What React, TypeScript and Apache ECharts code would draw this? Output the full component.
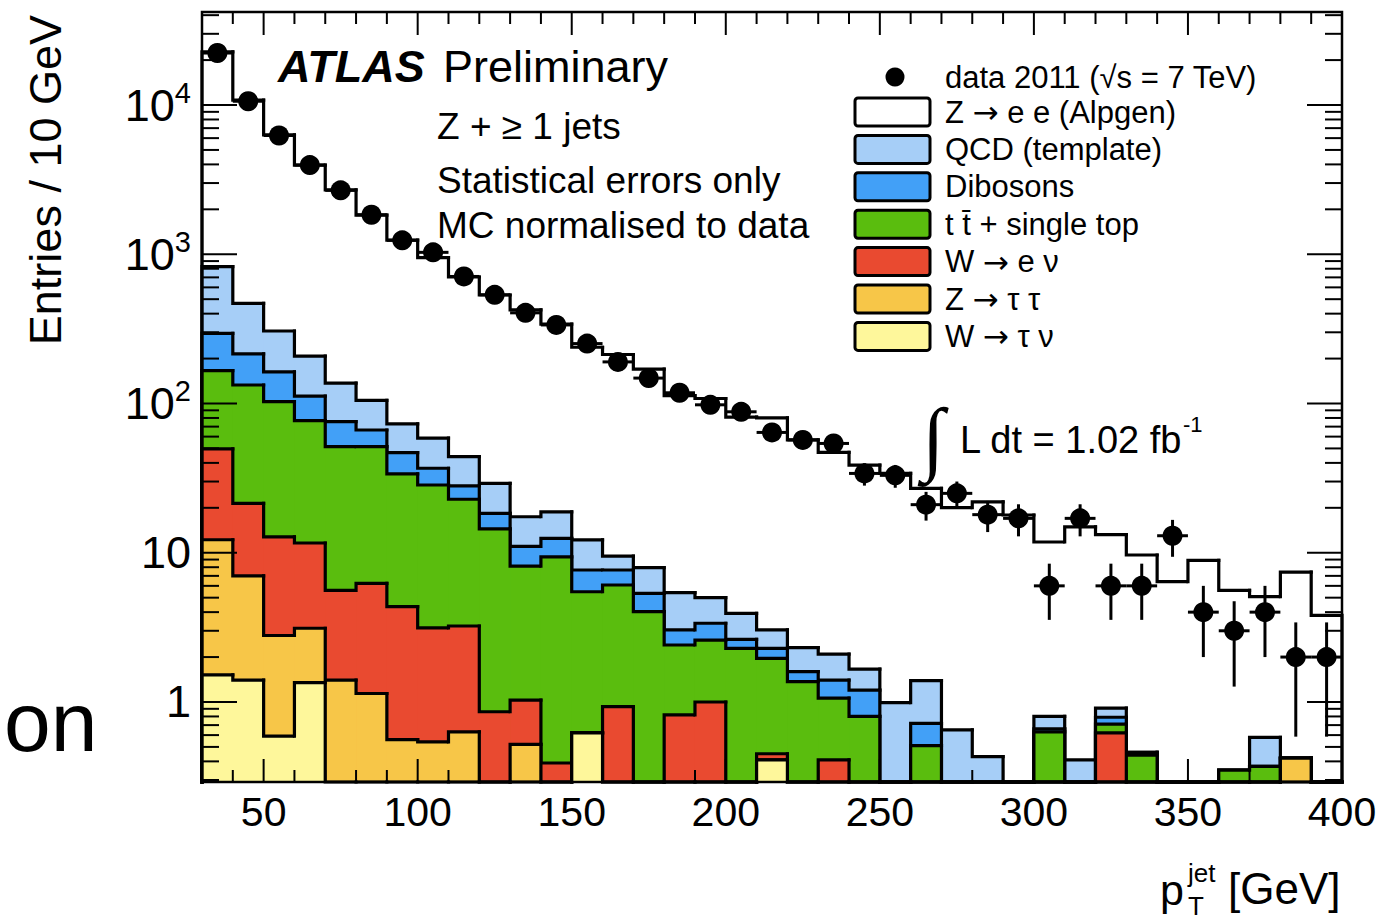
import React, { useEffect, useRef } from 'react';
import * as echarts from 'echarts';

const FONT = "'Liberation Sans', Arial, Helvetica, sans-serif";
const ARROW_FONT = "'DejaVu Sans', sans-serif";
const Y_MIN = 0.291;
const Y_MAX = 42000;
const BIN_WIDTH = 10;

// lower bin edges (GeV)
const binLow = [30, 40, 50, 60, 70, 80, 90, 100, 110, 120, 130, 140, 150, 160, 170, 180, 190, 200, 210, 220, 230, 240, 250, 260, 270, 280, 290, 300, 310, 320, 330, 340, 350, 360, 370, 380, 390];
// bin centres (GeV)
const binCenter = [35, 45, 55, 65, 75, 85, 95, 105, 115, 125, 135, 145, 155, 165, 175, 185, 195, 205, 215, 225, 235, 245, 255, 265, 275, 285, 295, 305, 315, 325, 335, 345, 355, 365, 375, 385, 395];

// data 2011 counts per bin
const dataCounts = [22300, 10600, 6250, 3960, 2680, 1840, 1240, 1030, 710, 535, 405, 336, 252, 190, 148, 118, 98, 88, 64, 57, 54, 34, 33, 21, 25, 18, 17, 6, 17, 6, 6, 13, 4, 3, 4, 2, 2];

// MC components (stack order, bottom to top)
const wTauNu = [1.52, 1.4, 0.59, 1.35, 0, 0, 0, 0, 0, 0, 0, 0, 0.62, 0, 0, 0, 0, 0, 0.41, 0, 0, 0, 0, 0, 0, 0, 0, 0, 0, 0, 0, 0, 0, 0, 0, 0, 0];
const zTauTau = [10.7, 5.6, 2.2, 1.77, 1.4, 1.14, 0.56, 0.54, 0.63, 0, 0.52, 0, 0, 0, 0, 0, 0, 0, 0, 0, 0, 0, 0, 0, 0, 0, 0, 0, 0, 0, 0, 0, 0, 0, 0, 0.42, 0];
const wENu = [37.4, 14.4, 10.0, 8.5, 4.2, 5.1, 3.8, 2.6, 2.6, 0.86, 0.51, 0.39, 0, 0.93, 0, 0.82, 1.0, 0, 0.04, 0, 0.41, 0, 0, 0, 0, 0, 0, 0, 0, 0.62, 0, 0, 0, 0, 0, 0, 0];
const ttbarTop = [116.4, 111.6, 90.2, 65.1, 45.8, 45.2, 29.4, 25.3, 19.6, 13.6, 7.1, 9.0, 4.86, 5.15, 4.03, 1.59, 1.6, 2.29, 1.51, 1.37, 0.65, 0.8, 0, 0.51, 0, 0, 0, 0.63, 0, 0.09, 0.44, 0, 0, 0.35, 0.37, 0, 0];
const dibosons = [129, 82, 60, 35.3, 24.1, 15, 13.1, 8.4, 5.2, 3.9, 2.9, 3.1, 2.18, 1.58, 1.32, 0.63, 0.77, 0.34, 0.33, 0.23, 0.34, 0.4, 0, 0.21, 0, 0, 0, 0.03, 0, 0.08, 0.02, 0, 0, 0, 0, 0, 0];
const qcd = [531, 254, 143, 96, 61.5, 38.6, 26.2, 21.7, 16, 10.8, 6.4, 6.3, 4.54, 1.84, 2.59, 2.36, 1.63, 1.3, 0.75, 0.71, 0.69, 0.46, 0.99, 0.67, 0.65, 0.43, 0, 0.14, 0.41, 0.12, 0, 0, 0, 0, 0.21, 0, 0];
const zee = [21874, 10331, 5994, 3752, 2563, 1725, 1172, 891, 660, 504, 406, 321, 226, 203.5, 162, 107.6, 103, 77.1, 77, 54.7, 44.9, 37, 33, 25.6, 19.4, 21.5, 17.9, 11.0, 14.5, 12.3, 9.2, 6.4, 8.9, 5.25, 4.5, 7.0, 3.8];

const componentNames = ['W → τ ν', 'Z → τ τ', 'W → e ν', 't t\u0304 + single top', 'Dibosons', 'QCD (template)', 'Z → e e (Alpgen)'];
const componentColors = ['#fef79b', '#f7c648', '#e94a30', '#5abd0e', '#42a0f7', '#a6cef7', '#ffffff'];
const componentValues = [wTauNu, zTauTau, wENu, ttbarTop, dibosons, qcd, zee];

// axis ticks
const xMajorTicks = [50, 100, 150, 200, 250, 300, 350, 400];
const xMinorTicks = [30, 40, 60, 70, 80, 90, 110, 120, 130, 140, 160, 170, 180, 190, 210, 220, 230, 240, 260, 270, 280, 290, 310, 320, 330, 340, 360, 370, 380, 390];
const yMajorTicks = [1, 10, 100, 1000, 10000];
const yMinorTicks = [0.3, 0.4, 0.5, 0.6, 0.7, 0.8, 0.9, 2, 3, 4, 5, 6, 7, 8, 9, 20, 30, 40, 50, 60, 70, 80, 90, 200, 300, 400, 500, 600, 700, 800, 900, 2000, 3000, 4000, 5000, 6000, 7000, 8000, 9000, 20000, 30000, 40000];

const clampY = (v: number) => Math.max(v, Y_MIN);

function buildOption() {
  const n = binLow.length;
  const cumulative: number[][] = [];
  let running = binLow.map(() => 0);
  componentValues.forEach((vals) => {
    running = running.map((r, i) => r + vals[i]);
    cumulative.push(running);
  });

  const stackSeries: any[] = [];
  for (let k = componentValues.length - 1; k >= 0; k--) {
    const cum = cumulative[k];
    const color = componentColors[k];
    stackSeries.push({
      type: 'custom',
      name: componentNames[k],
      coordinateSystem: 'cartesian2d',
      silent: true,
      z: 2 + (componentValues.length - 1 - k),
      encode: { x: [0, 1], y: [2, 3] },
      data: binLow.map((lo, i) => [lo, lo + BIN_WIDTH, clampY(cum[i]), i === 0 ? Y_MIN : clampY(cum[i - 1]), i === n - 1 ? 1 : 0]),
      renderItem: (params: any, api: any) => {
        const x0 = api.value(0);
        const x1 = api.value(1);
        const v = api.value(2);
        const vp = api.value(3);
        const last = api.value(4);
        const tl = api.coord([x0, v]);
        const tr = api.coord([x1, v]);
        const bl = api.coord([x0, Y_MIN]);
        const br = api.coord([x1, Y_MIN]);
        const pv = api.coord([x0, vp]);
        const pts = last ? [pv, tl, tr, br] : [pv, tl, tr];
        return {
          type: 'group',
          children: [
            {
              type: 'rect',
              shape: { x: tl[0], y: tl[1], width: tr[0] - tl[0] + 0.8, height: bl[1] - tl[1] },
              style: { fill: color },
            },
            {
              type: 'polyline',
              shape: { points: pts },
              style: { stroke: '#000', lineWidth: 3.2, fill: null, lineJoin: 'miter', lineCap: 'square' },
            },
          ],
        };
      },
    });
  }

  const errorSeries = {
    type: 'custom',
    name: 'errors',
    coordinateSystem: 'cartesian2d',
    silent: true,
    z: 20,
    encode: { x: 0, y: 1 },
    data: binCenter.map((x, i) => [x, dataCounts[i], Math.sqrt(dataCounts[i])]),
    renderItem: (params: any, api: any) => {
      const x = api.value(0);
      const v = api.value(1);
      const e = api.value(2);
      const lo = api.coord([x, clampY(v - e)]);
      const hi = api.coord([x, v + e]);
      const l = api.coord([x - BIN_WIDTH / 2, v]);
      const r = api.coord([x + BIN_WIDTH / 2, v]);
      return {
        type: 'group',
        children: [
          { type: 'line', shape: { x1: lo[0], y1: lo[1], x2: hi[0], y2: hi[1] }, style: { stroke: '#000', lineWidth: 3 } },
          { type: 'line', shape: { x1: l[0], y1: l[1], x2: r[0], y2: r[1] }, style: { stroke: '#000', lineWidth: 3 } },
        ],
      };
    },
  };

  const dataSeries = {
    type: 'scatter',
    name: 'data 2011 (√s = 7 TeV)',
    symbol: 'circle',
    symbolSize: 20,
    z: 21,
    silent: true,
    itemStyle: { color: '#000', opacity: 1 },
    data: binCenter.map((x, i) => [x, dataCounts[i]]),
  };

  const frameSeries = {
    type: 'custom',
    name: 'frame',
    coordinateSystem: 'cartesian2d',
    silent: true,
    z: 30,
    encode: { x: 0, y: 1 },
    data: [[30, 1]],
    renderItem: (params: any, api: any) => {
      const children: any[] = [];
      const tick = (x1: number, y1: number, x2: number, y2: number) =>
        children.push({ type: 'line', shape: { x1, y1, x2, y2 }, style: { stroke: '#000', lineWidth: 2 } });
      const xt = (vals: number[], len: number) => {
        vals.forEach((v) => {
          const b = api.coord([v, Y_MIN]);
          const t = api.coord([v, Y_MAX]);
          tick(b[0], b[1], b[0], b[1] - len);
          tick(t[0], t[1], t[0], t[1] + len);
        });
      };
      const yt = (vals: number[], len: number) => {
        vals.forEach((v) => {
          const l = api.coord([30, v]);
          const r = api.coord([400, v]);
          tick(l[0], l[1], l[0] + len, l[1]);
          tick(r[0], r[1], r[0] - len, r[1]);
        });
      };
      xt(xMinorTicks, 12);
      xt(xMajorTicks, 23);
      yt(yMinorTicks, 17);
      yt(yMajorTicks, 35);
      const tl = api.coord([30, Y_MAX]);
      const br = api.coord([400, Y_MIN]);
      children.push({
        type: 'rect',
        shape: { x: tl[0], y: tl[1], width: br[0] - tl[0], height: br[1] - tl[1] },
        style: { fill: null, stroke: '#000', lineWidth: 2.5 },
      });
      return { type: 'group', children };
    },
  };

  const txt = (text: string, x: number, y: number, size: number, extra: any = {}) => ({
    type: 'text',
    x,
    y,
    silent: true,
    z: 40,
    style: {
      text,
      fill: '#000',
      fontSize: size,
      fontFamily: FONT,
      align: 'left',
      textAlign: 'left',
      verticalAlign: 'middle',
      textVerticalAlign: 'middle',
      rich: {
        a: { fontFamily: ARROW_FONT, fontSize: size, fill: '#000' },
      },
      ...extra,
    },
  });

  const legendLabel = (name: string) => name.replace('→', '{a|→}');

  const graphics: any[] = [
    txt('ATLAS', 278, 66, 45, { fontWeight: 'bold', fontStyle: 'italic' }),
    txt('Preliminary', 443, 66, 45),
    txt('Z + ≥ 1 jets', 437, 126, 37),
    txt('Statistical errors only', 437, 180, 37),
    txt('MC normalised to data', 437, 225, 37),
    txt('∫', 922, 437, 82, { fontFamily: "'Liberation Serif', 'DejaVu Serif', serif" }),
    txt('L dt = 1.02 fb', 960, 440, 38),
    txt('-1', 1183, 424, 22),
    txt('p', 1160, 890, 43),
    txt('jet', 1188, 873, 26),
    txt('T', 1188, 906, 26),
    txt('[GeV]', 1228, 888, 44),
    txt('on', 4, 722, 84),
    {
      type: 'text',
      x: 45,
      y: 15,
      rotation: Math.PI / 2,
      silent: true,
      z: 40,
      style: {
        text: 'Entries / 10 GeV',
        fill: '#000',
        fontSize: 45,
        fontFamily: FONT,
        align: 'right',
        textAlign: 'right',
        verticalAlign: 'middle',
        textVerticalAlign: 'middle',
      },
    },
    // legend: data
    { type: 'circle', silent: true, z: 40, shape: { cx: 895, cy: 77, r: 9.5 }, style: { fill: '#000' } },
    txt('data 2011 (√s = 7 TeV)', 945, 77, 31),
  ];
  for (let j = 0; j < componentNames.length; j++) {
    const k = componentNames.length - 1 - j;
    const cy = 112 + j * 37.4;
    graphics.push({
      type: 'rect',
      silent: true,
      z: 40,
      shape: { x: 855, y: cy - 14, width: 75, height: 28, r: 3 },
      style: { fill: componentColors[k], stroke: '#000', lineWidth: 3 },
    });
    graphics.push(txt(legendLabel(componentNames[k]), 945, cy, 31));
  }

  return {
    animation: false,
    backgroundColor: '#ffffff',
    grid: { left: 202, right: 44, top: 12, bottom: 141, show: false },
    xAxis: {
      type: 'value',
      min: 30,
      max: 400,
      interval: 10,
      axisLine: { show: false },
      axisTick: { show: false },
      splitLine: { show: false },
      axisLabel: {
        fontSize: 41,
        fontFamily: FONT,
        color: '#000',
        margin: 9,
        formatter: (v: number) => (Math.round(v) % 50 === 0 ? String(Math.round(v)) : ''),
      },
    },
    yAxis: {
      type: 'log',
      logBase: 10,
      min: Y_MIN,
      max: Y_MAX,
      axisLine: { show: false },
      axisTick: { show: false },
      splitLine: { show: false },
      axisLabel: {
        fontSize: 45,
        fontFamily: FONT,
        color: '#000',
        margin: 11,
        formatter: (v: number) => {
          const lg = Math.log10(v);
          const k = Math.round(lg);
          if (Math.abs(lg - k) > 1e-6 || k < 0) return '';
          if (k === 0) return '1';
          if (k === 1) return '10';
          return `{b|10}{s|${k}}`;
        },
        rich: {
          b: { fontSize: 45, fontFamily: FONT, color: '#000', lineHeight: 54 },
          s: { fontSize: 29, fontFamily: FONT, color: '#000', lineHeight: 29, verticalAlign: 'top' },
        },
      },
    },
    graphic: graphics,
    series: [...stackSeries, errorSeries, dataSeries, frameSeries],
  };
}

export default function App() {
  const ref = useRef<HTMLDivElement>(null);
  useEffect(() => {
    if (!ref.current) return;
    const chart = echarts.init(ref.current, null, { renderer: 'svg' });
    chart.setOption(buildOption() as any);
    return () => chart.dispose();
  }, []);
  return <div ref={ref} style={{ position: 'absolute', left: 0, top: 0, width: 1386, height: 923, background: '#fff' }} />;
}
